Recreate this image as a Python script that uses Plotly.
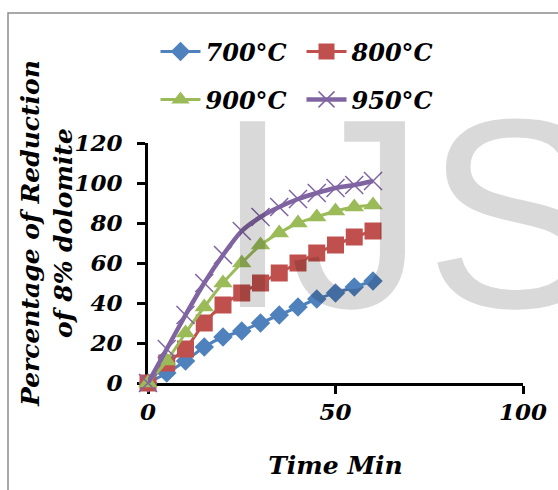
import plotly.graph_objects as go

time_min = [0, 5, 10, 15, 20, 25, 30, 35, 40, 45, 50, 55, 60]
r700 = [0, 5, 11, 18, 23, 26, 30, 34, 38, 42, 45, 48, 51]
r800 = [0, 10, 17, 30, 39, 45, 50, 55, 60, 65, 69, 73, 76]
r900 = [0, 11, 25, 38, 50, 60, 69, 75, 80, 83, 86, 88, 89]
r950 = [0, 17, 34, 50, 64, 76, 83, 88, 92, 95, 97.5, 99, 101]
series_names = ["700°C", "800°C", "900°C", "950°C"]
x_ticks = [0, 50, 100]
y_ticks = [0, 20, 40, 60, 80, 100, 120]

FONT = "DejaVu Serif"
W, H = 558, 490
ML, MR, MT, MB = 148, 35, 143, 107
pw, ph = W - ML - MR, H - MT - MB

fig = go.Figure()
specs = [
    ("#4F81BD", dict(symbol="diamond", size=15), 3, "legend"),
    ("#C0504D", dict(symbol="square", size=17), 3, "legend"),
    ("#9BBB59", dict(symbol="triangle-up", size=17), 3, "legend2"),
    ("#8064A2", dict(symbol="x-thin", size=18, line=dict(width=1.5, color="#8064A2")), 4.5, "legend2"),
]
for vals, name, (color, mk, lw, lg) in zip([r700, r800, r900, r950], series_names, specs):
    m = dict(color=color)
    m.update(mk)
    fig.add_trace(go.Scatter(
        x=time_min, y=vals, name=name, mode="lines+markers",
        line=dict(color=color, width=lw, shape="spline", smoothing=0.6),
        marker=m, cliponaxis=False, legend=lg,
    ))

tickfont = dict(family=FONT, size=23, color="black", weight="bold", style="italic")
legfont = dict(family=FONT, size=24, color="black", weight="bold", style="italic")
titlefont = dict(family=FONT, size=25, color="black", weight="bold", style="italic")
fig.update_layout(
    width=W, height=H,
    margin=dict(l=ML, r=MR, t=MT, b=MB, pad=0),
    paper_bgcolor="white", plot_bgcolor="white",
    xaxis=dict(range=[0, 100], tickvals=x_ticks, ticks="outside", ticklen=8, tickwidth=3,
               tickcolor="black", showline=True, linecolor="black", linewidth=3,
               showgrid=False, zeroline=False, tickfont=tickfont, ticklabelstandoff=-2,
               layer="below traces",
               title=dict(text="Time Min", font=titlefont, standoff=33)),
    yaxis=dict(range=[0, 120], tickvals=y_ticks, ticks="outside", ticklen=8, tickwidth=3,
               tickcolor="black", showline=True, linecolor="black", linewidth=3,
               showgrid=False, zeroline=False, tickfont=tickfont, ticklabelstandoff=10,
               layer="below traces"),
    xaxis2=dict(range=[0, 100], tickvals=x_ticks, ticks="inside", ticklen=8, tickwidth=3,
                tickcolor="black", showline=False, showgrid=False, zeroline=False,
                showticklabels=False, overlaying="x", anchor="y", layer="below traces"),
    yaxis2=dict(range=[0, 120], tickvals=y_ticks, ticks="inside", ticklen=8, tickwidth=3,
                tickcolor="black", showline=False, showgrid=False, zeroline=False,
                showticklabels=False, overlaying="y", anchor="x", layer="below traces"),
    legend=dict(orientation="h", x=0.02, y=1.38, xanchor="left", yanchor="middle",
                font=legfont, itemwidth=40, entrywidth=91, bgcolor="rgba(0,0,0,0)"),
    legend2=dict(orientation="h", x=0.02, y=1.18, xanchor="left", yanchor="middle",
                 font=legfont, itemwidth=40, entrywidth=91, bgcolor="rgba(0,0,0,0)"),
    showlegend=True,
)

# Y axis title (two lines)
fig.add_annotation(
    text="Percentage of Reduction<br>of 8% dolomite", textangle=-90,
    xref="paper", yref="paper", x=(47 - ML) / pw, y=(383 - 234) / ph,
    xanchor="center", yanchor="middle", showarrow=False, font=titlefont,
)

# Watermark
fig.add_annotation(
    text="IJS", xref="paper", yref="paper",
    x=(213 - ML) / pw, y=(383 - 213) / ph,
    xanchor="left", yanchor="middle", showarrow=False,
    font=dict(family="Liberation Sans", size=270, color="rgba(0,0,0,0.15)"),
)

# Outer chart border
fig.add_shape(type="rect", xref="paper", yref="paper",
              x0=(8 - ML) / pw, x1=(600 - ML) / pw,
              y0=(383 - 540) / ph, y1=(383 - 13) / ph,
              line=dict(color="#8c8c8c", width=1.5), fillcolor="rgba(0,0,0,0)", layer="below")

fig.write_html("out.html", config={"displayModeBar": False},
               post_script="document.body.style.margin='0';")
